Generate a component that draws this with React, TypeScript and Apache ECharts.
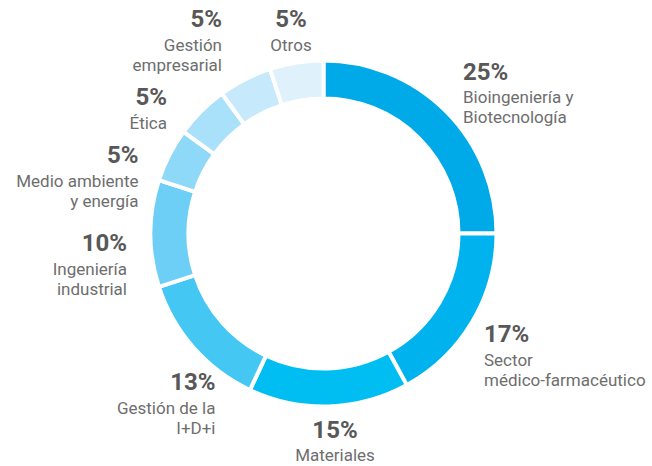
import React, { useEffect, useRef } from "react";
import * as echarts from "echarts";

const categories = [
  "Bioingeniería y\nBiotecnología",
  "Sector\nmédico-farmacéutico",
  "Materiales",
  "Gestión de la\nI+D+i",
  "Ingeniería\nindustrial",
  "Medio ambiente\ny energía",
  "Ética",
  "Gestión\nempresarial",
  "Otros",
];
const values = [25, 17, 15, 13, 10, 5, 5, 5, 5];
const palette = [
  "#00a9e8",
  "#00b3ef",
  "#00bef2",
  "#45c7f4",
  "#6ecff6",
  "#8ed8f8",
  "#aae1fa",
  "#c6eafb",
  "#dff2fc",
];
// label anchor (layout only): [x, y, align]
const labelAnchors: [number, number, string][] = [
  [463, 91.5, "left"],
  [484, 354, "left"],
  [335, 439.5, "center"],
  [215.5, 402, "right"],
  [127, 263, "right"],
  [138.5, 175, "right"],
  [167, 107, "right"],
  [222, 39, "right"],
  [291, 29, "center"],
];

export default function App() {
  const ref = useRef<HTMLDivElement>(null);
  useEffect(() => {
    document.body.style.margin = "0";
    const chart = echarts.init(ref.current!, undefined, { renderer: "svg" });
    chart.setOption({
      animation: false,
      color: palette,
      textStyle: { fontFamily: "Roboto" },
      series: [
        {
          type: "pie",
          center: [323.5, 233.5],
          radius: [135, 173],
          startAngle: 90,
          clockwise: true,
          avoidLabelOverlap: false,
          itemStyle: { borderColor: "#ffffff", borderWidth: 4 },
          emphasis: { disabled: true },
          labelLine: { show: false },
          label: {
            show: true,
            position: "outside",
            formatter: (p: any) => {
              const lines = String(p.name).split("\n").map((l) => `{n|${l}}`);
              return `{p|${p.value}%}\n` + lines.join("\n");
            },
            rich: {
              p: {
                fontFamily: "Roboto",
                fontSize: 24,
                fontWeight: "bold",
                color: "#585858",
                lineHeight: 31,
              },
              n: {
                fontFamily: "Roboto",
                fontSize: 17,
                color: "#6e6e6e",
                lineHeight: 20,
              },
            },
          },
          labelLayout: (params: any) => {
            const a = labelAnchors[params.dataIndex];
            return {
              x: a[0],
              y: a[1],
              align: a[2],
              verticalAlign: "middle",
            };
          },
          data: values.map((v, i) => ({ value: v, name: categories[i] })),
        },
      ],
    });
    return () => chart.dispose();
  }, []);
  return <div ref={ref} style={{ width: 652, height: 466 }} />;
}
